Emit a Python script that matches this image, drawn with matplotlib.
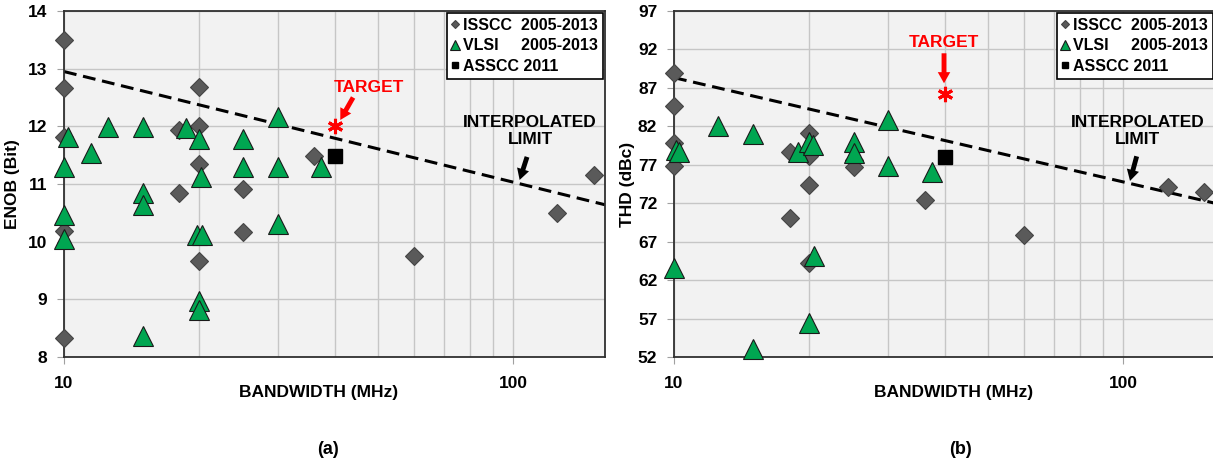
import matplotlib
matplotlib.use('Agg')
import matplotlib.pyplot as plt
from matplotlib.ticker import FixedLocator, FixedFormatter, NullFormatter

plt.rcParams['font.family'] = ['Liberation Sans', 'DejaVu Sans']
plt.rcParams['font.weight'] = 'bold'

# (a) ENOB vs bandwidth
isscc_a_bw = [10, 10, 10, 10, 10, 20, 20, 18, 20, 18, 20, 25, 25, 36, 60, 125, 151]
isscc_a_enob = [13.5, 12.66, 11.82, 10.18, 8.33, 12.68, 12.0, 11.94, 11.34, 10.84, 9.66, 10.91, 10.16, 11.48, 9.75, 10.49, 11.16]
vlsi_a_bw = [10.2, 10, 10, 10, 11.5, 12.5, 15, 15, 15, 15, 18.7, 20, 20.2, 19.8, 20.3, 20, 20, 25, 25, 30, 30, 30, 37.4]
vlsi_a_enob = [11.82, 11.30, 10.47, 10.05, 11.53, 11.98, 11.98, 10.85, 10.64, 8.37, 11.97, 11.78, 11.13, 10.12, 10.12, 8.97, 8.82, 11.78, 11.30, 12.16, 11.30, 10.31, 11.30]
asscc_a = (40, 11.48)
target_a = (40, 12.0)
limit_a_bw = [10, 160]
limit_a_enob = [12.95, 10.64]

# (b) THD vs bandwidth
isscc_b_bw = [10, 10, 10, 10, 18.1, 18.1, 20, 20, 20, 20, 25.2, 25.2, 36.2, 60, 126, 151]
isscc_b_thd = [89.0, 84.6, 79.8, 76.9, 78.6, 70.1, 81.1, 78.1, 74.4, 64.2, 77.6, 76.7, 72.4, 67.9, 74.1, 73.4]
vlsi_b_bw = [10, 10.1, 10.25, 12.5, 15, 15, 18.9, 20, 20.4, 20.5, 20, 25.2, 25.2, 30, 30, 37.6]
vlsi_b_thd = [63.6, 78.9, 78.7, 82.0, 81.0, 53.0, 78.7, 80.0, 79.6, 65.1, 56.4, 79.9, 78.5, 82.8, 76.9, 76.0]
asscc_b = (40, 78.05)
target_b = (40, 86.2)
limit_b_bw = [10, 160]
limit_b_thd = [88.33, 72.0]

W, H = 1213, 466
fig = plt.figure(figsize=(W / 100, H / 100), dpi=100)


def px_axes(x0, y0, x1, y1):
    return fig.add_axes([x0 / W, 1 - y1 / H, (x1 - x0) / W, (y1 - y0) / H])


def style_axes(ax, yticks, ylabel, label_x):
    ax.set_facecolor('#f2f2f2')
    ax.set_xscale('log')
    ax.set_xlim(10, 160)
    ax.set_ylim(yticks[0], yticks[-1])
    ax.set_yticks(yticks)
    ax.xaxis.set_major_locator(FixedLocator([10, 100]))
    ax.xaxis.set_major_formatter(FixedFormatter(['10', '100']))
    ax.xaxis.set_minor_locator(FixedLocator([20, 30, 40, 50, 60, 70, 80, 90]))
    ax.xaxis.set_minor_formatter(NullFormatter())
    ax.grid(True, which='both', color='#c6c6c6', lw=1.0)
    ax.set_axisbelow(True)
    ax.tick_params(axis='both', which='major', length=5, color='#a0a0a0', labelsize=12.5)
    ax.tick_params(axis='y', pad=7)
    ax.tick_params(axis='x', pad=9)
    ax.tick_params(axis='x', which='minor', length=0)
    for s in ax.spines.values():
        s.set_color('#303030')
        s.set_linewidth(1.3)
    ax.set_ylabel(ylabel, fontsize=12.5, fontweight='bold')
    ax.yaxis.set_label_coords(label_x, 0.5)


def draw(ax, ibw, iv, vbw, vv, asscc, target, lbw, lv):
    ax.plot(lbw, lv, ls=(0, (4.2, 2.2)), color='black', lw=2.2, zorder=2)
    ax.plot(ibw, iv, ls='none', marker='D', ms=8.7, mfc='#5a5a5a', mec='#444444', mew=0.8,
            clip_on=False, zorder=3, label='ISSCC  2005-2013')
    ax.plot(vbw, vv, ls='none', marker='^', ms=14.5, mfc='#00a651', mec='#1a1a1a', mew=0.8,
            clip_on=False, zorder=4, label='VLSI     2005-2013')
    ax.plot(*asscc, ls='none', marker='s', ms=10, mfc='black', mec='black',
            zorder=5, label='ASSCC 2011')
    ax.plot(*target, ls='none', marker=(6, 2, 0), ms=11, mew=2.2, color='red', zorder=5)
    leg = ax.legend(loc='upper right', bbox_to_anchor=(0.9963, 0.9942), fontsize=11.5,
                    handlelength=0.5, handletextpad=0.25, labelspacing=0.35,
                    borderpad=0.3, borderaxespad=0.0, fancybox=False, framealpha=1,
                    markerscale=0.5)
    leg.get_frame().set_edgecolor('black')
    leg.get_frame().set_linewidth(1.2)


arrow_style = 'simple,head_width=0.9,head_length=0.8,tail_width=0.35'

# left panel
ax1 = px_axes(64, 11, 605, 357)
style_axes(ax1, [8, 9, 10, 11, 12, 13, 14], 'ENOB (Bit)', -0.081)
draw(ax1, isscc_a_bw, isscc_a_enob, vlsi_a_bw, vlsi_a_enob, asscc_a, target_a, limit_a_bw, limit_a_enob)
ax1.text(47.8, 12.68, 'TARGET', color='red', fontsize=12.5, fontweight='bold', ha='center', va='center')
ax1.annotate('', xy=(41.2, 12.11), xytext=(44.0, 12.5),
             arrowprops=dict(arrowstyle=arrow_style, color='red', lw=0, shrinkA=0, shrinkB=0))
ax1.text(109, 11.92, 'INTERPOLATED\nLIMIT', color='black', fontsize=12.5, fontweight='bold',
         ha='center', va='center', linespacing=1.15)
ax1.annotate('', xy=(103.3, 11.07), xytext=(107.3, 11.47),
             arrowprops=dict(arrowstyle=arrow_style, color='black', lw=0, shrinkA=0, shrinkB=0))

# right panel
ax2 = px_axes(674, 11, 1215, 357)
style_axes(ax2, [52, 57, 62, 67, 72, 77, 82, 87, 92, 97], 'THD (dBc)', -0.072)
draw(ax2, isscc_b_bw, isscc_b_thd, vlsi_b_bw, vlsi_b_thd, asscc_b, target_b, limit_b_bw, limit_b_thd)
ax2.text(39.9, 92.84, 'TARGET', color='red', fontsize=12.5, fontweight='bold', ha='center', va='center')
ax2.annotate('', xy=(39.9, 87.6), xytext=(39.9, 91.5),
             arrowprops=dict(arrowstyle=arrow_style, color='red', lw=0, shrinkA=0, shrinkB=0))
ax2.text(107.8, 81.4, 'INTERPOLATED\nLIMIT', color='black', fontsize=12.5, fontweight='bold',
         ha='center', va='center', linespacing=1.15)
ax2.annotate('', xy=(103.5, 74.9), xytext=(107.1, 78.1),
             arrowprops=dict(arrowstyle=arrow_style, color='black', lw=0, shrinkA=0, shrinkB=0))

# x labels and panel captions
fig.text(319 / W, 1 - 393 / H, 'BANDWIDTH (MHz)', fontsize=12.5, fontweight='bold', ha='center', va='center')
fig.text(954 / W, 1 - 393 / H, 'BANDWIDTH (MHz)', fontsize=12.5, fontweight='bold', ha='center', va='center')
fig.text(328 / W, 1 - 450 / H, '(a)', fontsize=13, fontweight='bold', ha='center', va='center')
fig.text(961 / W, 1 - 450 / H, '(b)', fontsize=13, fontweight='bold', ha='center', va='center')

fig.savefig('out.png', dpi=100)
